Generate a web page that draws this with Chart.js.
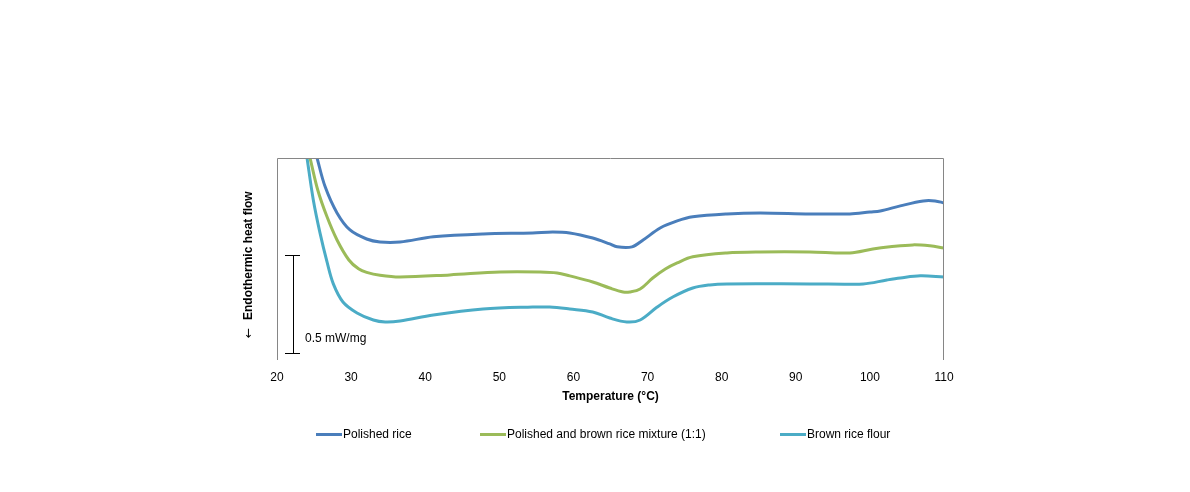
<!DOCTYPE html>
<html>
<head>
<meta charset="utf-8">
<script src="https://cdn.jsdelivr.net/npm/chart.js@4.4.1/dist/chart.umd.min.js"></script>
<style>
html,body{margin:0;padding:0;background:#fff;}
canvas{display:block;}
</style>
</head>
<body>
<canvas id="c" width="1190" height="492"></canvas>
<script>
// Temperature (°C) and heat flow (mW/mg, relative offset)
const seriesNames = ["Polished rice", "Polished and brown rice mixture (1:1)", "Brown rice flour"];
const seriesColors = ["#4a7ebb", "#9bbb59", "#4bacc6"];

const polishedT = [24.3, 25.4, 26.5, 28.1, 29.85, 32.1, 33.9, 36.6, 41.1, 47.8, 54.5, 57.2, 59.5, 62.6, 64.9, 65.9, 67.9, 69.4, 71.7, 74.0, 76.1, 80.7, 85.2, 91.9, 97.3, 100.0, 101.4, 104.1, 107.2, 108.8, 110.0];
const polishedV = [1.184, 1.031, 0.883, 0.750, 0.663, 0.617, 0.602, 0.602, 0.628, 0.643, 0.648, 0.653, 0.648, 0.622, 0.592, 0.577, 0.577, 0.612, 0.673, 0.709, 0.730, 0.745, 0.750, 0.745, 0.745, 0.755, 0.760, 0.786, 0.811, 0.811, 0.801];

const mixtureT = [23.5, 24.45, 25.5, 26.75, 28.1, 29.7, 31.0, 32.1, 33.9, 36.6, 43.3, 50.1, 55.5, 57.8, 59.5, 62.6, 64.9, 66.7, 67.6, 69.0, 70.7, 72.4, 74.0, 76.1, 80.7, 85.2, 91.9, 97.3, 100.4, 102.7, 105.8, 108.1, 110.0];
const mixtureV = [1.173, 1.031, 0.867, 0.730, 0.612, 0.510, 0.465, 0.447, 0.432, 0.423, 0.434, 0.449, 0.449, 0.444, 0.429, 0.398, 0.367, 0.347, 0.347, 0.362, 0.418, 0.464, 0.495, 0.526, 0.546, 0.551, 0.551, 0.546, 0.566, 0.577, 0.587, 0.582, 0.571];

const brownT = [23.4, 24.05, 24.9, 25.8, 26.75, 27.6, 28.9, 30.8, 33.0, 34.6, 36.6, 41.1, 47.8, 54.5, 56.8, 59.5, 62.6, 64.9, 67.2, 69.0, 71.3, 73.4, 76.1, 78.4, 80.7, 91.9, 99.1, 102.3, 104.1, 106.8, 110.0];
const brownV = [1.199, 1.031, 0.816, 0.648, 0.500, 0.388, 0.296, 0.240, 0.204, 0.194, 0.199, 0.230, 0.260, 0.270, 0.270, 0.260, 0.245, 0.214, 0.194, 0.204, 0.270, 0.321, 0.367, 0.383, 0.388, 0.388, 0.388, 0.408, 0.418, 0.429, 0.423];

const xTicks = [20, 30, 40, 50, 60, 70, 80, 90, 100, 110];
const scaleBar = {from: 0.036, size: 0.5, label: "0.5 mW/mg"};
const xTitle = "Temperature (°C)";
const yArrow = "\u2190";
const yTitle = "Endothermic heat flow";

function pts(t, v){ return t.map((x,i)=>({x:x, y:v[i]})); }

const FONT = "'Liberation Sans', Arial, sans-serif";

const decor = {
  id: 'decor',
  afterDraw(chart){
    const ctx = chart.ctx;
    const a = chart.chartArea;
    const ys = chart.scales.y;
    ctx.save();
    // frame (left, top, right)
    ctx.strokeStyle = '#868686';
    ctx.lineWidth = 1;
    ctx.beginPath();
    ctx.moveTo(a.left+0.5, a.bottom);
    ctx.lineTo(a.left+0.5, a.top+0.5);
    ctx.lineTo(a.right-0.5, a.top+0.5);
    ctx.lineTo(a.right-0.5, a.bottom);
    ctx.stroke();
    // scale bar
    const y0 = Math.round(ys.getPixelForValue(scaleBar.from))+0.5;
    const y1 = Math.round(ys.getPixelForValue(scaleBar.from+scaleBar.size))+0.5;
    ctx.strokeStyle = '#000';
    ctx.beginPath();
    ctx.moveTo(293.5, y0); ctx.lineTo(293.5, y1);
    ctx.moveTo(285, y0); ctx.lineTo(300, y0);
    ctx.moveTo(285, y1); ctx.lineTo(300, y1);
    ctx.stroke();
    ctx.fillStyle = '#000';
    ctx.font = "12px " + FONT;
    ctx.textBaseline = 'middle';
    ctx.textAlign = 'left';
    ctx.fillText(scaleBar.label, 305, 339);
    // y title
    ctx.save();
    ctx.translate(249, 0);
    ctx.rotate(-Math.PI/2);
    ctx.font = "bold 12px " + FONT;
    ctx.textAlign = 'left';
    ctx.fillStyle = '#000';
    ctx.fillText(yTitle, -320, 0);
    ctx.font = "12px 'DejaVu Sans', sans-serif";
    ctx.fillText(yArrow, -338, 0);
    ctx.restore();
    // legend
    const lx = [316, 480, 780];
    ctx.font = "12px " + FONT;
    ctx.lineWidth = 3;
    for (let i=0;i<3;i++){
      ctx.strokeStyle = seriesColors[i];
      ctx.beginPath();
      ctx.moveTo(lx[i], 434.5); ctx.lineTo(lx[i]+26, 434.5);
      ctx.stroke();
      ctx.fillStyle = '#000';
      ctx.fillText(seriesNames[i], lx[i]+27, 435);
    }
    ctx.restore();
  }
};

new Chart(document.getElementById('c'), {
  type: 'line',
  data: {
    datasets: [
      {label: seriesNames[0], data: pts(polishedT, polishedV), borderColor: seriesColors[0]},
      {label: seriesNames[1], data: pts(mixtureT, mixtureV), borderColor: seriesColors[1]},
      {label: seriesNames[2], data: pts(brownT, brownV), borderColor: seriesColors[2]}
    ].map(d => Object.assign(d, {borderWidth: 3, pointRadius: 0, fill: false, tension: 0.35, clip: 0}))
  },
  options: {
    responsive: false,
    animation: false,
    devicePixelRatio: 1,
    layout: {padding: {left: 277, right: 246, top: 158, bottom: 0}},
    plugins: {legend: {display: false}, tooltip: {enabled: false}},
    scales: {
      x: {
        type: 'linear', min: 20, max: 110,
        afterBuildTicks(s){ s.ticks = xTicks.map(v=>({value:v})); },
        afterFit(s){ s.height = 132; },
        grid: {display: false, drawTicks: false},
        border: {display: false},
        ticks: {padding: 10, color: '#000', font: {family: FONT, size: 12}},
        title: {display: true, text: xTitle, color: '#000', font: {family: FONT, size: 12, weight: 'bold'}, padding: {top: 0, bottom: 88}}
      },
      y: {
        type: 'linear', min: 0, max: 1.03, display: false
      }
    }
  },
  plugins: [decor]
});
</script>
</body>
</html>
